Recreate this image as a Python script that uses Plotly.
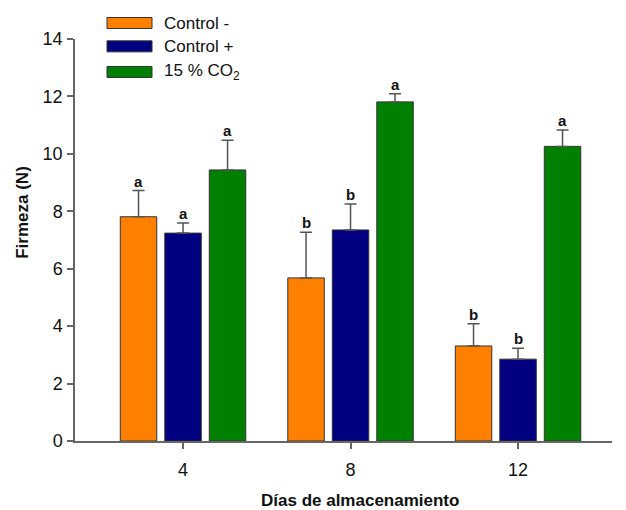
import plotly.graph_objects as go

days = ["4", "8", "12"]
series_names = ["Control -", "Control +", "15 % CO<sub>2</sub>"]
ctrl_neg = [7.81, 5.68, 3.31]
ctrl_neg_err = [0.91, 1.59, 0.77]
ctrl_pos = [7.24, 7.35, 2.85]
ctrl_pos_err = [0.35, 0.90, 0.38]
co2 = [9.44, 11.81, 10.26]
co2_err = [1.03, 0.28, 0.57]
letters_neg = ["a", "b", "b"]
letters_pos = ["a", "b", "b"]
letters_co2 = ["a", "a", "a"]
colors = ["#FF8000", "#000080", "#008000"]

FONT = "Arial, Liberation Sans, sans-serif"
values = [ctrl_neg, ctrl_pos, co2]
errs = [ctrl_neg_err, ctrl_pos_err, co2_err]
letters = [letters_neg, letters_pos, letters_co2]

fig = go.Figure()
for name, v, e, c in zip(series_names, values, errs, colors):
    fig.add_trace(go.Bar(
        x=days, y=v, name=name,
        marker=dict(color=c, line=dict(color="#333333", width=1)),
        error_y=dict(type="data", array=e, arrayminus=[0]*len(e), symmetric=False,
                     color="#555555", thickness=1.5, width=6),
        showlegend=False,
    ))

shifts = [-44.5, 0, 44.5]
for lt, v, e, s in zip(letters, values, errs, shifts):
    for i, (l, vv, ee) in enumerate(zip(lt, v, e)):
        fig.add_annotation(x=i, y=vv + ee, text="<b>%s</b>" % l, showarrow=False,
                           xshift=s, yanchor="bottom", yshift=-1,
                           font=dict(family=FONT, size=15, color="#111111"))

# legend drawn manually
leg_y = [1.0398, 0.9817, 0.918]
for name, c, yy in zip(series_names, colors, leg_y):
    fig.add_shape(type="rect", xref="paper", yref="paper",
                  x0=0.0596, x1=0.1434, y0=yy - 0.0137, y1=yy + 0.0137,
                  fillcolor=c, line=dict(color="#333333", width=1))
    fig.add_annotation(xref="paper", yref="paper", x=0.1615, y=yy, text=name,
                       showarrow=False, xanchor="left", yanchor="middle",
                       font=dict(family=FONT, size=17, color="#111111"))

fig.add_annotation(xref="paper", yref="paper", x=-0.097, y=0.57, text="<b>Firmeza (N)</b>",
                   textangle=-90, showarrow=False, xanchor="center", yanchor="middle",
                   font=dict(family=FONT, size=17, color="#111111"))
fig.add_annotation(xref="paper", yref="paper", x=0.531, y=-0.147, text="<b>Días de almacenamiento</b>",
                   showarrow=False, xanchor="center", yanchor="middle",
                   font=dict(family=FONT, size=17, color="#111111"))

fig.update_layout(
    width=626, height=510,
    margin=dict(l=75, r=14, t=39, b=69),
    barmode="group", bargap=0.203, bargroupgap=0.18,
    plot_bgcolor="white", paper_bgcolor="white",
    font=dict(family=FONT, size=17, color="#111111"),
)
fig.update_xaxes(type="category", range=[-0.645, 2.561], showline=True, linecolor="#666666",
                 linewidth=1.5, ticks="outside", ticklen=6, tickcolor="#666666", tickwidth=1.5,
                 showgrid=False, zeroline=False, tickfont=dict(size=18), ticklabelstandoff=6)
fig.update_yaxes(range=[0, 14], dtick=2, showline=True, linecolor="#666666", linewidth=1.5,
                 ticks="outside", ticklen=6, tickcolor="#666666", tickwidth=1.5,
                 showgrid=False, zeroline=False, tickfont=dict(size=18), ticklabelstandoff=1)

fig.write_html("out.html", config={"displayModeBar": False},
               post_script="document.body.style.margin='0';document.body.style.overflow='hidden';")
